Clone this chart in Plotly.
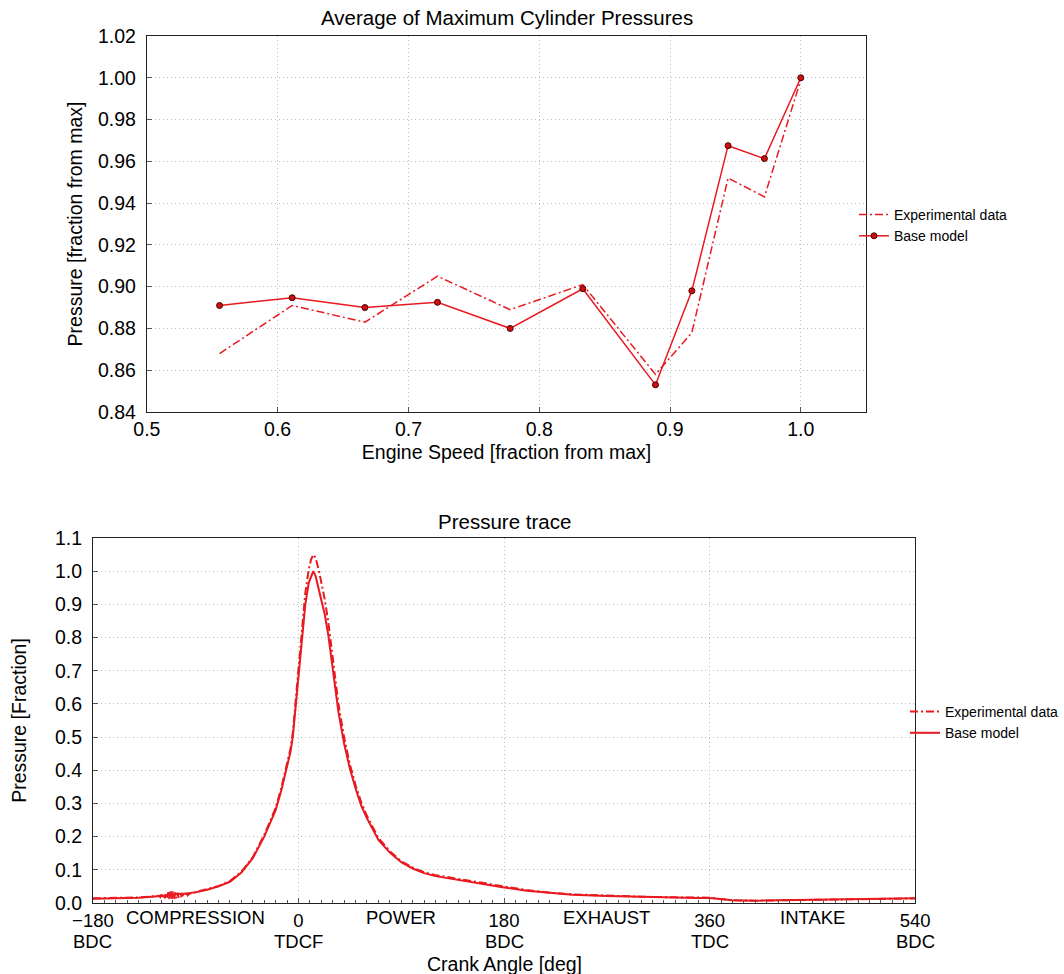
import plotly.graph_objects as go

# ---------------- Top chart data ----------------
engine_speed = [0.5556, 0.6111, 0.6667, 0.7222, 0.7778, 0.8333, 0.8889, 0.9167, 0.9444, 0.9722, 1.0]
exp_max_p = [0.868, 0.891, 0.883, 0.905, 0.889, 0.901, 0.858, 0.878, 0.952, 0.943, 0.999]
base_max_p = [0.891, 0.8947, 0.890, 0.8925, 0.880, 0.899, 0.853, 0.898, 0.9675, 0.9613, 1.0]

# ---------------- Bottom chart data ----------------
base_angle = [-180, -160, -140, -120, -100, -90, -80, -70, -60, -50, -40, -30, -25, -20, -15, -10, -7, -5, -3, 0,
              3, 6, 9, 11, 13, 15, 18, 20, 23, 26, 30, 35, 40, 45, 50, 55, 60, 70, 80, 90, 100, 110, 120, 140,
              160, 180, 200, 220, 240, 270, 300, 330, 350, 360, 370, 380, 400, 450, 500, 540]
base_p = [0.013, 0.014, 0.016, 0.021, 0.027, 0.032, 0.040, 0.050, 0.064, 0.092, 0.135, 0.200, 0.240, 0.280, 0.340,
          0.410, 0.455, 0.500, 0.570, 0.680, 0.790, 0.900, 0.965, 0.980, 1.000, 0.985, 0.944, 0.915, 0.870, 0.810,
          0.705, 0.575, 0.480, 0.405, 0.345, 0.293, 0.255, 0.190, 0.152, 0.123, 0.104, 0.090, 0.081, 0.069,
          0.058, 0.047, 0.037, 0.030, 0.025, 0.021, 0.018, 0.016, 0.015, 0.015, 0.011, 0.008, 0.007, 0.009,
          0.011, 0.014]

exp_angle = [-180, -160, -140, -130, -122, -121, -120, -119, -118, -117, -116, -115, -114, -113, -112, -111, -110,
             -109, -108, -107, -106, -105, -104, -103, -102, -101, -100, -99, -98, -97, -96,
             -90, -80, -70, -60, -50, -40, -30, -25, -20, -15, -10, -7, -5, -3, 0,
             3, 6, 9, 11, 13, 15, 18, 20, 23, 26, 30, 35, 40, 45, 50, 55, 60, 70, 80, 90, 100, 110, 120, 140,
             160, 180, 200, 220, 240, 270, 300, 330, 350, 360, 370, 380, 400, 450, 500, 540]
exp_p = [0.014, 0.015, 0.017, 0.019,
         0.022, 0.018, 0.026, 0.016, 0.028, 0.014, 0.030, 0.012, 0.033, 0.010, 0.035, 0.009, 0.035,
         0.011, 0.032, 0.014, 0.031, 0.016, 0.030, 0.018, 0.030, 0.019, 0.029, 0.021, 0.029, 0.023, 0.027,
         0.033, 0.041, 0.051, 0.066, 0.094, 0.138, 0.205, 0.245, 0.287, 0.347,
         0.418, 0.465, 0.512, 0.585, 0.700, 0.820, 0.935, 1.005, 1.035, 1.050, 1.040, 1.000, 0.965, 0.915, 0.850,
         0.745, 0.600, 0.498, 0.418, 0.355, 0.303, 0.262, 0.196, 0.156, 0.126, 0.107, 0.093, 0.084, 0.072,
         0.062, 0.050, 0.039, 0.031, 0.026, 0.022, 0.019, 0.017, 0.016, 0.016, 0.012, 0.008, 0.007, 0.009,
         0.011, 0.014]

crank_tickvals = [-180, 0, 180, 360, 540]
crank_ticktext = ["\u2212180", "0", "180", "360", "540"]
crank_point_names = ["BDC", "TDCF", "BDC", "TDC", "BDC"]
phase_pos = [-90, 90, 270, 450]
phase_names = ["COMPRESSION", "POWER", "EXHAUST", "INTAKE"]

RED = "#e8191f"
W, H = 1064, 974
FONT = "Liberation Sans, Arial, sans-serif"
FS = 19.5
FS_CRANK = 18.5

def px_x(p):
    return p / W

def px_y(p):
    return (H - p) / H

fig = go.Figure()

fig.add_trace(go.Scatter(x=engine_speed, y=exp_max_p, mode="lines", name="Experimental data",
                         line=dict(color=RED, width=1.5, dash="8px,3px,2px,3px"),
                         xaxis="x", yaxis="y", legend="legend"))
fig.add_trace(go.Scatter(x=engine_speed, y=base_max_p, mode="lines+markers", name="Base model",
                         line=dict(color=RED, width=1.5),
                         marker=dict(size=6, color="#cc1010", line=dict(color="#4a0000", width=1)),
                         xaxis="x", yaxis="y", legend="legend"))

fig.add_trace(go.Scatter(x=exp_angle, y=exp_p, mode="lines", name="Experimental data",
                         line=dict(color=RED, width=2, dash="8px,3px,2px,3px"),
                         xaxis="x2", yaxis="y2", legend="legend2"))
fig.add_trace(go.Scatter(x=base_angle, y=base_p, mode="lines", name="Base model",
                         line=dict(color=RED, width=2),
                         xaxis="x2", yaxis="y2", legend="legend2"))

axis_common = dict(showline=True, linecolor="#222222", linewidth=1, mirror=True,
                   showgrid=True, gridcolor="#bdbdbd", griddash="1px,3px", gridwidth=1,
                   ticks="inside", ticklen=5, tickcolor="#555555", zeroline=False,
                   automargin=False, tickfont=dict(size=FS, color="black"))

fig.update_layout(
    width=W, height=H, margin=dict(l=0, r=0, t=0, b=0),
    paper_bgcolor="white", plot_bgcolor="white",
    font=dict(family=FONT, size=FS, color="black"),
    xaxis=dict(axis_common, domain=[px_x(147), px_x(867)], anchor="y", range=[0.5, 1.05],
               tick0=0.5, dtick=0.1, tickformat=".1f", ticklabelstandoff=0,
               title=dict(text="Engine Speed [fraction from max]", standoff=5, font=dict(size=FS))),
    yaxis=dict(axis_common, domain=[px_y(412), px_y(36)], anchor="x", range=[0.84, 1.02],
               tick0=0.84, dtick=0.02, tickformat=".2f", ticklabelstandoff=6,
               title=dict(text="Pressure [fraction from max]", standoff=10, font=dict(size=FS))),
    xaxis2=dict(axis_common, domain=[px_x(93), px_x(916)], anchor="y2", range=[-180, 540],
                tickmode="array", tickvals=crank_tickvals, ticktext=crank_ticktext, ticklabelstandoff=1,
                tickfont=dict(size=FS_CRANK, color="black"),
                minor=dict(dtick=10, tick0=-180, ticks="inside", ticklen=3, tickcolor="#555555", showgrid=False)),
    yaxis2=dict(axis_common, domain=[px_y(903), px_y(538)], anchor="x2", range=[0, 1.1],
                tick0=0, dtick=0.1, tickformat=".1f", ticklabelstandoff=6,
                title=dict(text="Pressure [Fraction]", standoff=23, font=dict(size=FS))),
    legend=dict(x=px_x(854), y=px_y(199), xanchor="left", yanchor="top", bgcolor="rgba(0,0,0,0)",
                font=dict(size=14, color="black"), tracegroupgap=0, itemwidth=30),
    legend2=dict(x=px_x(906), y=px_y(696), xanchor="left", yanchor="top", bgcolor="rgba(0,0,0,0)",
                 font=dict(size=14, color="black"), tracegroupgap=0, itemwidth=30),
    showlegend=True,
)

annotations = [
    dict(text="Average of Maximum Cylinder Pressures", x=(px_x(147) + px_x(867)) / 2, y=px_y(18),
         xref="paper", yref="paper", showarrow=False, xanchor="center", yanchor="middle", font=dict(size=20.5)),
    dict(text="Pressure trace", x=(px_x(93) + px_x(916)) / 2, y=px_y(521),
         xref="paper", yref="paper", showarrow=False, xanchor="center", yanchor="middle", font=dict(size=20.5)),
    dict(text="Crank Angle [deg]", x=(px_x(93) + px_x(916)) / 2, y=px_y(964),
         xref="paper", yref="paper", showarrow=False, xanchor="center", yanchor="middle", font=dict(size=FS)),
]
for pos, name in zip(phase_pos, phase_names):
    annotations.append(dict(text=name, x=pos, y=px_y(917), xref="x2", yref="paper", showarrow=False,
                            xanchor="center", yanchor="middle", font=dict(size=FS_CRANK)))
for pos, name in zip(crank_tickvals, crank_point_names):
    annotations.append(dict(text=name, x=pos, y=px_y(941), xref="x2", yref="paper", showarrow=False,
                            xanchor="center", yanchor="middle", font=dict(size=FS_CRANK)))
fig.update_layout(annotations=annotations)

fig.write_html("out.html")
